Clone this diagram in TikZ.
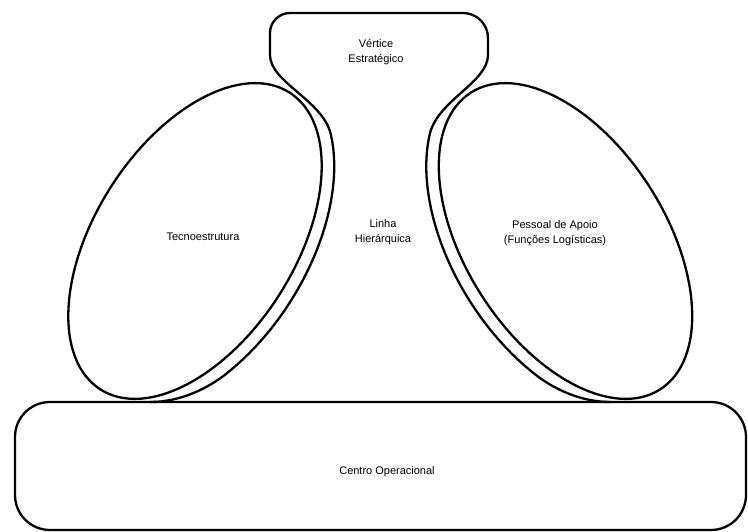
\documentclass[tikz,border=0pt]{standalone}
\usepackage{fontspec}
\setmainfont{Liberation Sans}
\begin{document}
\begin{tikzpicture}[x=1pt,y=1pt,
  outline/.style={line width=2.3pt, line join=round, line cap=round},
  lbl/.style={font=\fontsize{11}{15}\selectfont, align=center, inner sep=0pt}]
\useasboundingbox[fill=white] (0,0) rectangle (748,-532);
% ellipses
\draw[outline, rotate around={57.5:(195,-241)}] (195,-241) ellipse [x radius=176, y radius=100];
\draw[outline, rotate around={122.5:(565.5,-241)}] (565.5,-241) ellipse [x radius=176, y radius=100];
% operating core
\draw[outline, rounded corners=35] (15,-402) rectangle (746,-530);
% strategic apex + middle line
\draw[outline] (150,-402) .. controls (180,-402) and (207.5,-388.8) .. (226.8,-373.3)
  -- plot[domain=-120:-30, samples=80, variable=\t] ({195+101.5*cos(\t)-95.3*sin(\t)}, {-241+159.4*cos(\t)+60.7*sin(\t)})
  .. controls (322,-100) and (270,-82) .. (270,-55)
  -- (270,-33) arc[start angle=180, end angle=90, radius=20] -- (463,-13)
  arc[start angle=90, end angle=0, radius=25] -- (488,-55)
  .. controls (488,-82) and (438.5,-100) .. (429.9,-133.4)
  -- plot[domain=30:120, samples=80, variable=\t] ({565.5-101.5*cos(\t)-95.3*sin(\t)}, {-241+159.4*cos(\t)-60.7*sin(\t)})
  .. controls (553,-388.8) and (580.5,-402) .. (610.5,-402);
% labels
\node[lbl] (apex) at (376,-52) {Vértice\\Estratégico};
\node[lbl] (middle) at (383,-232) {Linha\\Hierárquica};
\node[lbl] (techno) at (203,-237) {Tecnoestrutura};
\node[lbl] (support) at (555,-233) {Pessoal de Apoio\\(Funções Logísticas)};
\node[lbl] (core) at (387,-472) {Centro Operacional};
\end{tikzpicture}
\end{document}
